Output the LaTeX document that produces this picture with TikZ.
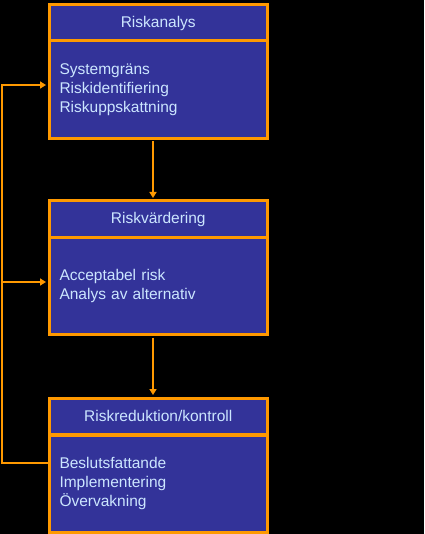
\documentclass[tikz,border=0pt]{standalone}
\usepackage{fontspec}
\setmainfont{Liberation Sans}
\usetikzlibrary{arrows.meta}
\definecolor{boxfill}{RGB}{51,51,153}
\definecolor{boxline}{RGB}{255,153,0}
\definecolor{boxtext}{RGB}{204,230,255}
\begin{document}
\begin{tikzpicture}[x=1pt,y=-1pt,
  title/.style={draw=boxline,fill=boxfill,line width=3pt,inner sep=0pt,
    minimum width=218.5pt,minimum height=36pt,anchor=north west,
    text=boxtext,font=\fontsize{15.5}{19.3}\selectfont},
  body/.style={draw=boxline,fill=boxfill,line width=3pt,inner ysep=0pt,inner xsep=10.5pt,
    text width=197.5pt,align=left,minimum height=#1,anchor=north west,
    text=boxtext,font=\fontsize{15.5}{19.3}\selectfont},
  conn/.style={draw=boxline,line width=2pt},
  tip/.style={-{Triangle[width=7pt,length=6pt]},shorten >=1.5pt}]
\useasboundingbox[fill=black] (0,0) rectangle (424,534);
% box 1
\node[body=97.5pt] (b1body) at (47.5,39.5) {Systemgräns\\Riskidentifiering\\Riskuppskattning};
\node[title] (b1title) at (47.5,3.5) {Riskanalys};
% box 2
\node[body=97pt] (b2body) at (47.5,236) {Acceptabel risk\\Analys av alternativ};
\node[title] (b2title) at (47.5,199.5) {Riskvärdering};
% box 3
\node[body=97pt] (b3body) at (47.5,433.5) {Beslutsfattande\\Implementering\\Övervakning};
\node[title] (b3title) at (47.5,396.5) {Riskreduktion/kontroll};
% helper coordinates
\coordinate (ax) at (153,0);
\coordinate (L1) at (2,85);
\coordinate (L2) at (2,282);
\coordinate (L3) at (2,463);
% down arrows
\draw[conn,tip] (b1body.south -| ax) ++(0,1.5) -- (b2title.north -| ax);
\draw[conn,tip] (b2body.south -| ax) ++(0,1.5) -- (b3title.north -| ax);
% feedback
\draw[conn,tip] (b3body.west |- L3) -- (L3) -- (L1) -- (b1body.west |- L1);
\draw[conn,tip] (L2) -- (b2body.west |- L2);
\end{tikzpicture}
\end{document}
